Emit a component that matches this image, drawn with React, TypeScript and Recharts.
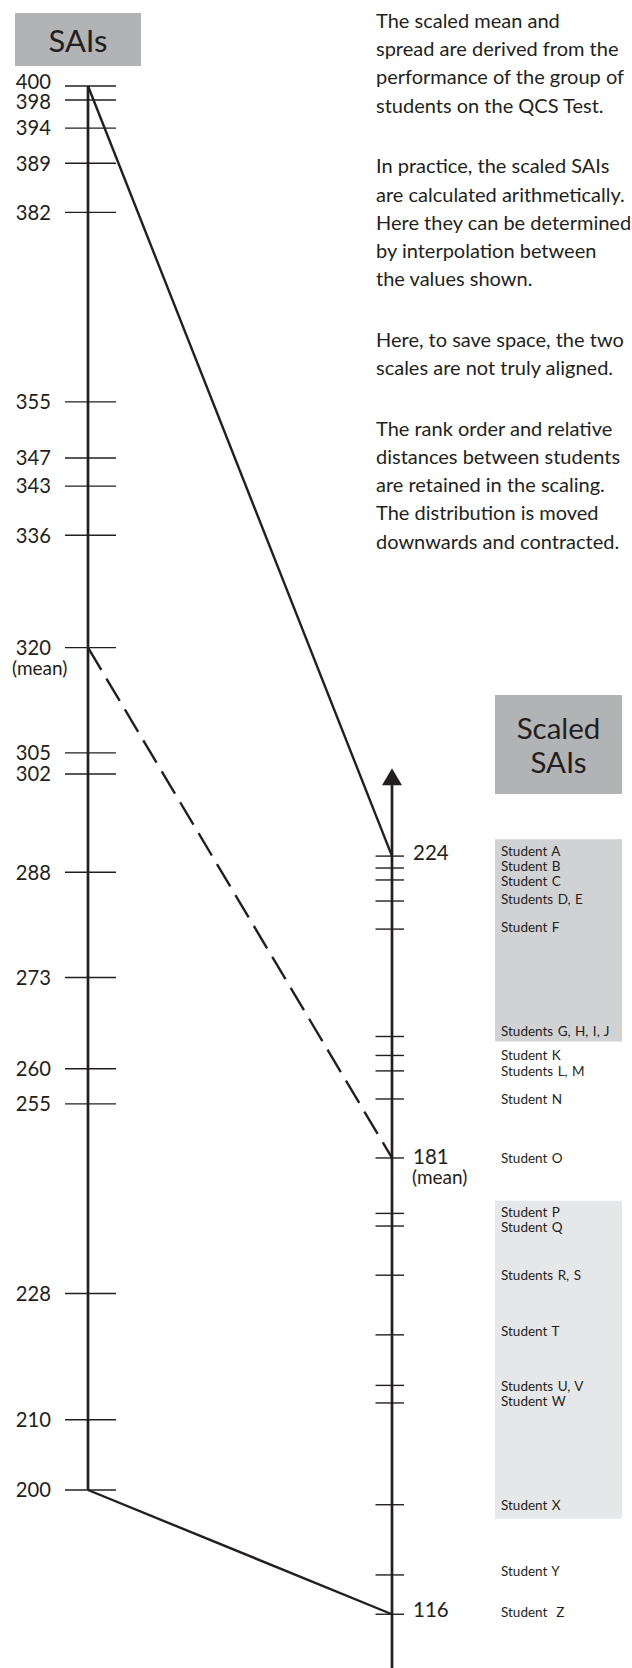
import React from "react";
import {
  ScatterChart,
  Scatter,
  XAxis,
  YAxis,
  ReferenceLine,
  ReferenceArea,
} from "recharts";

// SAIs on the left scale, top to bottom
const saiTicks = [400, 398, 394, 389, 382, 355, 347, 343, 336, 320, 305, 302, 288, 273, 260, 255, 228, 210, 200];
const scaledTicks = [224, 222.3, 220.6, 217.6, 213.6, 198.3, 195.6, 193.4, 189.4, 181, 173.1, 171.3, 164.3, 155.8, 148.6, 146.1, 131.6, 121.6, 116];
const students = [
  "Student A", "Student B", "Student C", "Students D, E", "Student F",
  "Students G, H, I, J", "Student K", "Students L, M", "Student N", "Student O",
  "Student P", "Student Q", "Students R, S", "Student T", "Students U, V",
  "Student W", "Student X", "Student Y", "Student  Z",
];
const scaledLabels = [224, 181, 116];
const meanSai = 320;
const meanScaled = 181;
// left value -> scaled value, solid / dashed
const links = [
  { from: 400, to: 224, dashed: false },
  { from: 320, to: 181, dashed: true },
  { from: 200, to: 116, dashed: false },
];
// grey bands behind the student groups (scaled values)
const bands = [
  [226.4, 197.6],
  [174.9, 129.6],
];
const arrowTip = 236.5;

const notes = [
  ["The scaled mean and", "spread are derived from the", "performance of the group of", "students on the QCS Test."],
  ["In practice, the scaled SAIs", "are calculated arithmetically.", "Here they can be determined", "by interpolation between", "the values shown."],
  ["Here, to save space, the two", "scales are not truly aligned."],
  ["The rank order and relative", "distances between students", "are retained in the scaling.", "The distribution is moved", "downwards and contracted."],
];

const W = 632;
const H = 1668;
const INK = "#231f20";
const FONT = "Lato, 'Noto Sans', sans-serif";
const bandFills = ["#d1d2d4", "#e6e7e8"];
const LEFT_X = 88;
const RIGHT_X = 392;
// px per SAI unit and where 400 sits
const PX = (1490 - 86) / 200;
const LEFT_MAX = 400 + 86 / PX;
const LEFT_MIN = 400 - (H - 86) / PX;
// the right scale is shifted down against the left one
const RIGHT_OFFSET = 66.3;

// small vertical nudges so crowded labels don't collide (px)
const leftNudge: Record<number, number> = { 400: -4.5, 398: 1.5 };
const rightNudge: Record<number, number> = { 224: -3.7, 181: -1.7, 116: -5 };
const studentNudge = [-5, -2, 1, -2, -2, -5, 0, 0, 0, 0, -1.5, 1, 0, -4, 1, -1.5, 0.5, -4, -2.5];

const leftData = saiTicks.map((v) => ({ x: LEFT_X, y: v }));
const rightData = scaledTicks.map((v, i) => ({ x: RIGHT_X, y: v, student: students[i], nudge: studentNudge[i] }));

const SaiTick = (props: any) => {
  const { cx, cy, payload } = props;
  const dy = leftNudge[payload.y] ?? 0;
  return (
    <g>
      <line x1={cx - 23} x2={cx + 28} y1={cy} y2={cy} stroke={INK} strokeWidth={1.4} />
      <text x={cx - 37} y={cy + 7.3 + dy} textAnchor="end" fontSize={20.2} fill={INK} fontFamily={FONT}>
        {payload.y}
      </text>
      {payload.y === meanSai && (
        <text x={cx - 76} y={cy + 27.5} fontSize={19} fill={INK} fontFamily={FONT}>
          (mean)
        </text>
      )}
    </g>
  );
};

const ScaledTick = (props: any) => {
  const { cx, cy, payload } = props;
  const dy = rightNudge[payload.y] ?? 0;
  return (
    <g>
      <line x1={cx - 16.5} x2={cx + 12} y1={cy} y2={cy} stroke={INK} strokeWidth={1.4} />
      {scaledLabels.includes(payload.y) && (
        <text x={cx + 21} y={cy + 7.3 + dy} fontSize={20.5} fill={INK} fontFamily={FONT}>
          {payload.y}
        </text>
      )}
      {payload.y === meanScaled && (
        <text x={cx + 20} y={cy + 26.5} fontSize={19} fill={INK} fontFamily={FONT}>
          (mean)
        </text>
      )}
      <text
        x={cx + 109}
        y={cy + 4.8 + payload.nudge}
        fontSize={13.5}
        fill={INK}
        fontFamily={FONT}
        wordSpacing={1}
        style={{ whiteSpace: "pre" }}
      >
        {payload.student}
      </text>
    </g>
  );
};

const Arrow = (props: any) => {
  const { cx, cy } = props;
  return <polygon points={`${cx},${cy} ${cx - 10},${cy + 17} ${cx + 10},${cy + 17}`} fill={INK} />;
};

const titleBox: React.CSSProperties = {
  position: "absolute",
  background: "#b2b3b5",
  color: INK,
  fontFamily: FONT,
  textAlign: "center",
  display: "flex",
  flexDirection: "column",
  justifyContent: "center",
};

export default function App() {
  return (
    <div style={{ position: "absolute", left: 0, top: 0, width: W, height: H, background: "#fff" }}>
      <ScatterChart width={W} height={H} margin={{ top: 0, right: 0, bottom: 0, left: 0 }}>
        <XAxis type="number" dataKey="x" domain={[0, W]} hide allowDataOverflow />
        <YAxis yAxisId="left" type="number" dataKey="y" domain={[LEFT_MIN, LEFT_MAX]} hide allowDataOverflow />
        <YAxis
          yAxisId="right"
          type="number"
          dataKey="y"
          domain={[LEFT_MIN - RIGHT_OFFSET, LEFT_MAX - RIGHT_OFFSET]}
          hide
          allowDataOverflow
        />

        {bands.map(([top, bottom], i) => (
          <ReferenceArea
            key={i}
            yAxisId="right"
            x1={495}
            x2={622}
            y1={bottom}
            y2={top}
            fill={bandFills[i]}
            fillOpacity={1}
            stroke="none"
          />
        ))}

        <ReferenceLine
          yAxisId="left"
          segment={[{ x: LEFT_X, y: 200 }, { x: LEFT_X, y: 400 }]}
          stroke={INK}
          strokeWidth={2.7}
        />
        <ReferenceLine
          yAxisId="right"
          segment={[{ x: RIGHT_X, y: LEFT_MIN - RIGHT_OFFSET }, { x: RIGHT_X, y: arrowTip - 2.2 }]}
          stroke={INK}
          strokeWidth={2.7}
        />
        {links.map((l, i) => (
          <ReferenceLine
            key={i}
            yAxisId="left"
            segment={[{ x: LEFT_X, y: l.from }, { x: RIGHT_X, y: l.to + RIGHT_OFFSET }]}
            stroke={INK}
            strokeWidth={2.4}
            strokeDasharray={l.dashed ? "26 10" : undefined}
          />
        ))}

        <Scatter yAxisId="left" data={leftData} shape={SaiTick} isAnimationActive={false} />
        <Scatter yAxisId="right" data={rightData} shape={ScaledTick} isAnimationActive={false} />
        <Scatter yAxisId="right" data={[{ x: RIGHT_X, y: arrowTip }]} shape={Arrow} isAnimationActive={false} />
      </ScatterChart>

      <div style={{ ...titleBox, left: 15, top: 13, width: 126, height: 53, fontSize: 31 }}>SAIs</div>
      <div style={{ ...titleBox, left: 495, top: 695, width: 127, height: 99, fontSize: 29.5, lineHeight: "34px" }}>
        <div>Scaled</div>
        <div>SAIs</div>
      </div>

      <div
        style={{
          position: "absolute",
          left: 376,
          top: 6,
          fontFamily: FONT,
          fontSize: 20,
          lineHeight: "28.2px",
          color: INK,
          whiteSpace: "nowrap",
        }}
      >
        {notes.map((p, i) => (
          <div key={i} style={{ marginTop: i === 0 ? 0 : 32.5 }}>
            {p.map((line, j) => (
              <div key={j}>{line}</div>
            ))}
          </div>
        ))}
      </div>
    </div>
  );
}
